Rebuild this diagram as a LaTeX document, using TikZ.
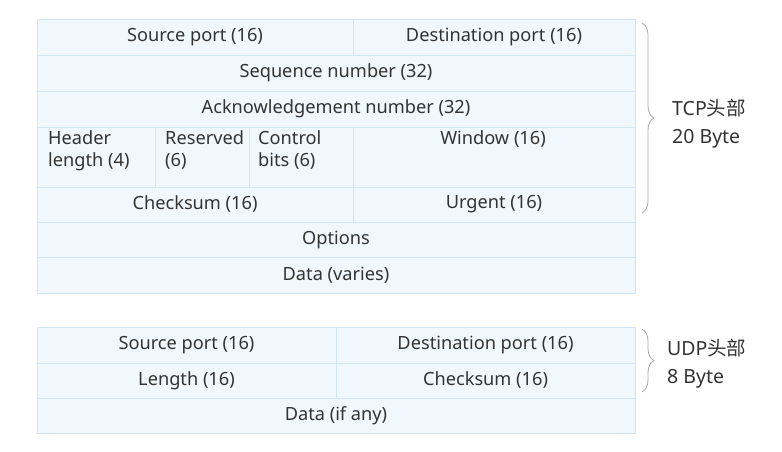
\documentclass[tikz,border=0pt]{standalone}
\usepackage{fontspec}
\setmainfont{Noto Sans}
\newfontfamily\cjk{Noto Sans CJK SC}
\usetikzlibrary{decorations.pathreplacing}
\definecolor{cellfill}{HTML}{F1F8FD}
\definecolor{cellline}{HTML}{CFE7F4}
\definecolor{txt}{HTML}{333333}
\definecolor{bracecol}{HTML}{A8A8A8}
\tikzset{
  cell/.style={draw=cellline, fill=cellfill, line width=0.9pt, inner sep=0pt, outer sep=0pt,
    anchor=north west, text=txt, font=\fontsize{18.2}{22}\selectfont},
  celltext/.style={anchor=north west, align=left, inner sep=0pt, text=txt, font=\fontsize{18.2}{22}\selectfont},
  hbrace/.style={draw=bracecol, line width=0.8pt, decorate, decoration={brace, amplitude=12pt}},
  sidelabel/.style={anchor=west, align=left, text=txt, font=\fontsize{19.5}{28}\selectfont, inner sep=0pt},
}
\begin{document}
\begin{tikzpicture}[x=1pt,y=-1pt]
\useasboundingbox (0,0) rectangle (782,452);
% TCP header
\node[cell, minimum width=316pt, minimum height=36pt] (tsp) at (37,19) {Source port (16)};
\node[cell, minimum width=282pt, minimum height=36pt] (tdp) at (353,19) {Destination port (16)};
\node[cell, minimum width=598pt, minimum height=36pt] (tseq) at (37,55) {Sequence number (32)};
\node[cell, minimum width=598pt, minimum height=36pt] (tack) at (37,91) {Acknowledgement number (32)};
\node[cell, minimum width=118pt, minimum height=60pt] (thl) at (37,127) {};
\node[celltext] (thlt) at (48,130) {Header\\length (4)};
\node[cell, minimum width=94pt, minimum height=60pt] (tres) at (155,127) {};
\node[celltext] (trest) at (165,130) {Reserved\\(6)};
\node[cell, minimum width=104pt, minimum height=60pt] (tctl) at (249,127) {};
\node[celltext] (tctlt) at (258,130) {Control\\bits (6)};
\node[cell, minimum width=282pt, minimum height=60pt] (twin) at (353,127) {};
\node[celltext, anchor=north] (twint) at (493,130) {Window (16)};
\node[cell, minimum width=316pt, minimum height=35pt] (tcs) at (37,187) {Checksum (16)};
\node[cell, minimum width=282pt, minimum height=35pt] (turg) at (353,187) {Urgent (16)};
\node[cell, minimum width=598pt, minimum height=35pt] (topt) at (37,222) {Options};
\node[cell, minimum width=598pt, minimum height=36pt] (tdata) at (37,257) {Data (varies)};
% UDP header
\node[cell, minimum width=299pt, minimum height=36pt] (usp) at (37,327) {Source port (16)};
\node[cell, minimum width=299pt, minimum height=36pt] (udp) at (336,327) {Destination port (16)};
\node[cell, minimum width=299pt, minimum height=35pt] (ulen) at (37,363) {Length (16)};
\node[cell, minimum width=299pt, minimum height=35pt] (ucs) at (336,363) {Checksum (16)};
\node[cell, minimum width=598pt, minimum height=35pt] (udata) at (37,398) {Data (if any)};
% braces
\coordinate (tb1) at ([xshift=7pt,yshift=-4pt]tdp.north east);
\coordinate (tb2) at ([xshift=7pt,yshift=-26pt]turg.north east);
\draw[hbrace] (tb1) -- (tb2);
\coordinate (ub1) at ([xshift=7pt,yshift=-2pt]udp.north east);
\coordinate (ub2) at ([xshift=7pt,yshift=-29pt]ucs.north east);
\draw[hbrace] (ub1) -- (ub2);
\node[sidelabel] (tcplab) at (672,124) {TCP{\cjk 头部}\\20 Byte};
\node[sidelabel] (udplab) at (667,364) {UDP{\cjk 头部}\\8 Byte};
\end{tikzpicture}
\end{document}
